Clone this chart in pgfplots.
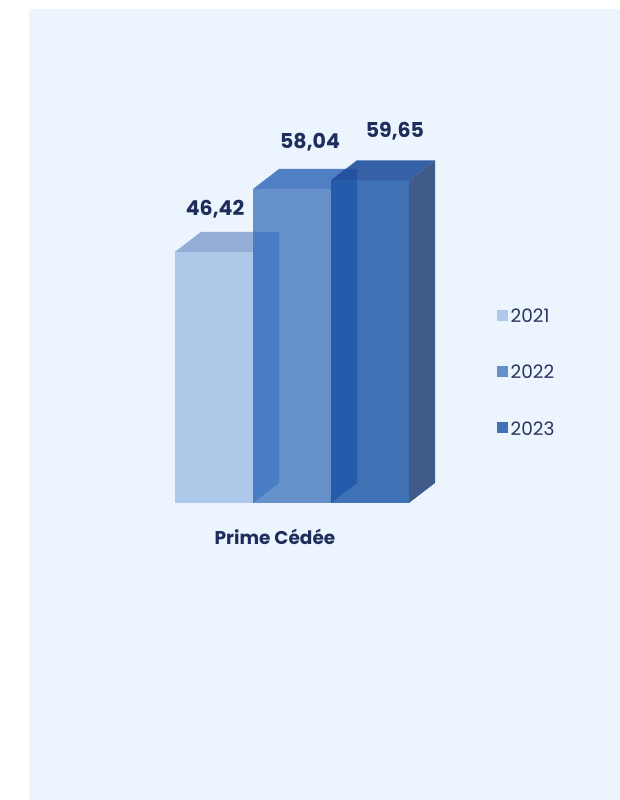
\documentclass[border=0pt]{standalone}
\usepackage{pgfplots}
\pgfplotsset{compat=1.18}
\usepackage{fontspec}
\setmainfont{Poppins}
\definecolor{bgc}{HTML}{ECF5FE}
\definecolor{txt}{HTML}{1F2D5C}
\definecolor{legtxt}{HTML}{2B3560}
\definecolor{fA}{HTML}{ADC8E9}
\definecolor{tA}{HTML}{93ADD6}
\definecolor{fB}{HTML}{6690C9}
\definecolor{tB}{HTML}{5080C3}
\definecolor{oB}{HTML}{4A7EC4}
\definecolor{fC}{HTML}{3F71B5}
\definecolor{tC}{HTML}{3660A6}
\definecolor{sC}{HTML}{405A8A}
\definecolor{oC}{HTML}{245BAA}
\definecolor{oCt}{HTML}{2352A0}
\begin{document}
\begin{tikzpicture}
\path (0,0) rectangle (620pt,800pt);
\fill[bgc] (29pt,0pt) rectangle (620pt,791pt);
\begin{axis}[
  at={(0pt,0pt)}, anchor=south west,
  width=620pt, height=800pt, scale only axis,
  xmin=-1.74359, xmax=6.20513, ymin=-54.898, ymax=92.976,
  hide axis, clip=false,
  legend style={at={(axis cs:4.59,36.22)}, anchor=north west,
    draw=none, fill=none, font=\fontsize{18.5}{21}\selectfont\color{legtxt},
    nodes={inner sep=0pt}, row sep=41pt},
  legend cell align=left,
]
% bar 2021 (46.42)
\addplot[fill=fA, draw=none, forget plot] coordinates {(0.5,0) (1.5,0) (1.5,46.42) (0.5,46.42)} --cycle;
\addplot[fill=tA, draw=none, forget plot] coordinates {(0.5,46.42) (1.5,46.42) (1.8333,50.12) (0.8333,50.12)} --cycle;
% bar 2022 (58.04)
\addplot[fill=fB, draw=none, forget plot] coordinates {(1.5,0) (2.5,0) (2.5,58.04) (1.5,58.04)} --cycle;
\addplot[fill=tB, draw=none, forget plot] coordinates {(1.5,58.04) (2.5,58.04) (2.8333,61.74) (1.8333,61.74)} --cycle;
\addplot[fill=oB, draw=none, forget plot] coordinates {(1.5,0) (1.8333,3.70) (1.8333,50.12) (1.5,50.12)} --cycle;
% bar 2023 (59.65)
\addplot[fill=fC, draw=none, forget plot] coordinates {(2.5,0) (3.5,0) (3.5,59.65) (2.5,59.65)} --cycle;
\addplot[fill=tC, draw=none, forget plot] coordinates {(2.5,59.65) (3.5,59.65) (3.8333,63.35) (2.8333,63.35)} --cycle;
\addplot[fill=sC, draw=none, forget plot] coordinates {(3.5,0) (3.8333,3.70) (3.8333,63.35) (3.5,59.65)} --cycle;
\addplot[fill=oC, draw=none, forget plot] coordinates {(2.5,0) (2.8333,3.70) (2.8333,59.65) (2.5,59.65)} --cycle;
\addplot[fill=oCt, draw=none, forget plot] coordinates {(2.5,59.65) (2.8333,59.65) (2.8333,61.74) (2.688,61.74)} --cycle;
% labels
\node[font=\fontsize{20.5}{24}\selectfont\bfseries, text=txt] at (axis cs:1.013,54.25) {46,42};
\node[font=\fontsize{20.5}{24}\selectfont\bfseries, text=txt] at (axis cs:2.231,66.64) {58,04};
\node[font=\fontsize{20.5}{24}\selectfont\bfseries, text=txt] at (axis cs:3.32,68.67) {59,65};
\node[font=\fontsize{18.5}{22}\selectfont\bfseries, text=txt] at (axis cs:1.782,-6.28) {Prime Cédée};
% legend
\addlegendimage{legend image code/.code={\fill[fA] (0pt,-3pt) rectangle (10pt,7pt); \path (13pt,0pt);}}
\addlegendentry{2021}
\addlegendimage{legend image code/.code={\fill[fB] (0pt,-3pt) rectangle (10pt,7pt); \path (13pt,0pt);}}
\addlegendentry{2022}
\addlegendimage{legend image code/.code={\fill[fC] (0pt,-3pt) rectangle (10pt,7pt); \path (13pt,0pt);}}
\addlegendentry{2023}
\end{axis}
\end{tikzpicture}
\end{document}
